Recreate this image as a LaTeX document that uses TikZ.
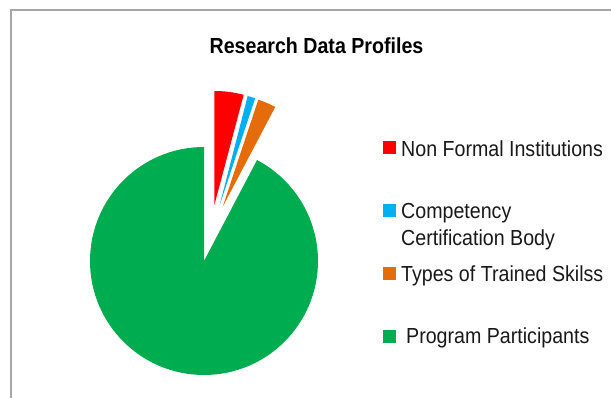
\documentclass[tikz,border=0pt]{standalone}
\usepackage{fontspec}
\setmainfont[FakeStretch=0.9]{Liberation Sans}
\definecolor{pgreen}{HTML}{00AC50}
\definecolor{pred}{HTML}{FF0000}
\definecolor{pblue}{HTML}{00B0F0}
\definecolor{porange}{HTML}{E46C0A}
\definecolor{pframe}{HTML}{A6A6A6}
\tikzset{
  x=1pt,y=1pt,
  swatch/.style={minimum size=13pt,inner sep=0pt,outer sep=0pt,anchor=center},
  legendtext/.style={anchor=west,inner sep=0pt,font=\fontsize{21.8}{27}\selectfont,align=left,text=black!90},
}
\begin{document}
\begin{tikzpicture}
\useasboundingbox (0,0) rectangle (611,398);
\fill[white] (0,0) rectangle (611,398);
\draw[pframe,line width=2pt] (10.5,0) -- (10.5,387.5) -- (611,387.5);
% main slice
\fill[pgreen] (204,137) -- (204,251) arc[start angle=90,end angle=422.3,radius=114pt] -- cycle;
% exploded slices
\fill[pred] (214.4,193) -- (214.4,307) arc[start angle=90,end angle=75.1,radius=114pt] -- cycle;
\fill[pblue] (219.7,193) -- ++(75.6:112.5pt) arc[start angle=75.6,end angle=71.6,radius=112.5pt] -- cycle;
\fill[porange] (222.7,191.3) -- ++(71.6:112.8pt) arc[start angle=71.6,end angle=62.2,radius=112.8pt] -- cycle;
% title
\node[inner sep=0pt,font=\bfseries\fontsize{21.8}{24}\selectfont] (title) at (316.5,352) {Research Data Profiles};
% legend
\node[swatch,fill=pred] (s1) at (389.5,250.5) {};
\node[swatch,fill=pblue] (s2) at (389.5,187.5) {};
\node[swatch,fill=porange] (s3) at (389.5,124.5) {};
\node[swatch,fill=pgreen] (s4) at (389.5,61.5) {};
\node[legendtext] (l1) at (401,249.5) {Non Formal Institutions};
\node[legendtext] (l2) at (401,171.5) {Competency\\Certification Body};
\node[legendtext] (l3) at (401,122.5) {Types of Trained Skilss};
\node[legendtext] (l4) at (406,60.5) {Program Participants};
\end{tikzpicture}
\end{document}
